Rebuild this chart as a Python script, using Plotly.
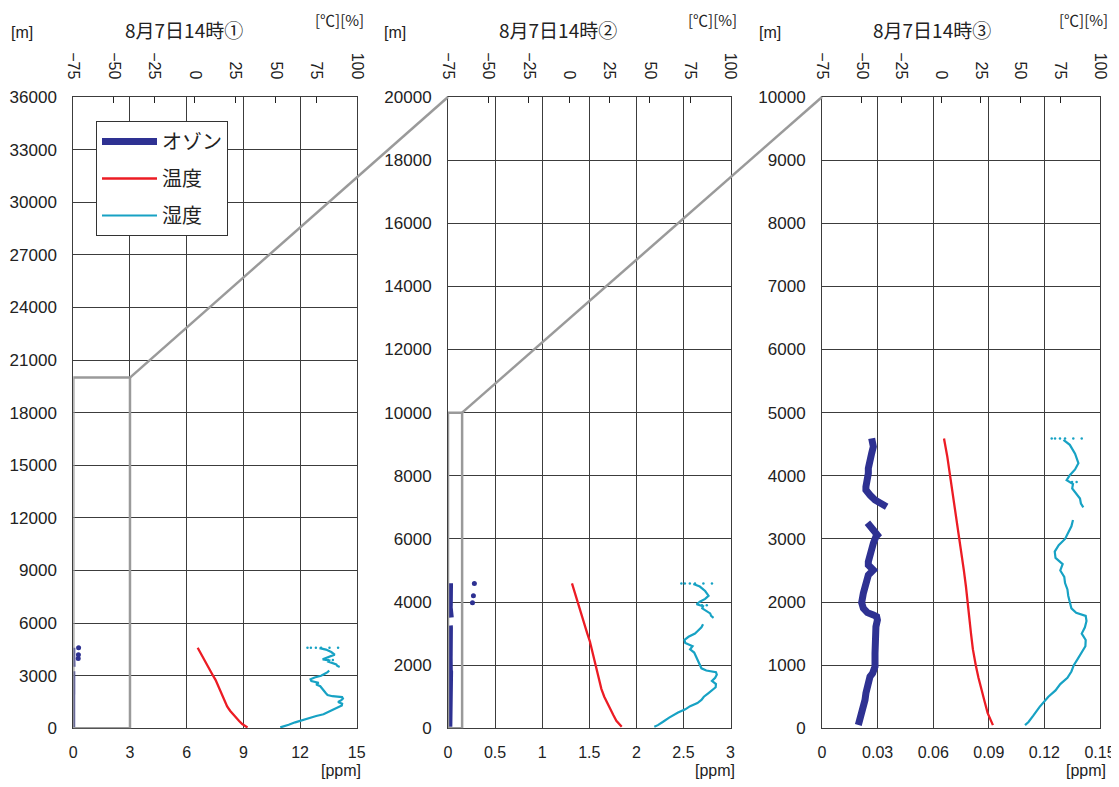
import plotly.graph_objects as go

W, H = 1119, 787
OFF = 8  # the page body margin shifts the figure by this many pixels
FW, FH = W - OFF, H - 2 * OFF  # keep the page from scrolling

# ---------------- data ----------------
# temperature profile [°C] vs altitude [m]
alt_temp = [50, 105, 240, 420, 600, 800, 1000, 1250, 1500, 1750, 2000, 2250, 2500,
            2750, 3000, 3250, 3450, 3700, 4000, 4300, 4590]
temp = [32.6, 31.5, 29.3, 27.4, 25.5, 23.5, 21.8, 20.0, 18.8, 17.8, 16.6, 15.6, 14.3,
        12.9, 11.3, 9.8, 8.7, 7.2, 5.6, 3.9, 1.8]

# relative humidity [%] vs altitude [m]  (None = missing data)
alt_hum = [50, 100, 200, 340, 500, 600, 700, 800, 900, 1000, 1100, 1200, 1300, 1400,
           1500, 1600, 1700, 1780, 1830, 1900, 2000, 2100, 2200, 2300, 2400, 2500,
           2600, 2700, 2800, 2900, 3000, 3100, 3200, 3300, None,
           3500, 3560, 3640, 3720, 3800, 3870, 3930, 4010, 4100, 4200, 4350, 4490, 4570]
hum = [52.8, 55.0, 58.0, 62.0, 67.5, 72.0, 75.0, 79.5, 82.0, 83.5, 86.0, 88.5, 90.8, 91.0,
       88.5, 90.5, 91.5, 91.0, 85.0, 82.0, 81.0, 80.0, 79.5, 78.0, 77.5, 75.0,
       76.5, 72.0, 71.5, 74.0, 78.0, 80.0, 82.0, 83.0, None,
       89.5, 88.0, 87.4, 85.0, 82.5, 83.0, 79.0, 81.0, 84.3, 86.4, 84.3, 81.0, 77.0]
# scattered humidity readings at the top of the sounding
alt_hum_dots = [4590, 4590, 4590, 4590, 4590, 4590, 3900, 3900]
hum_dots = [69.6, 71.7, 74.8, 78.0, 83.2, 88.5, 82.4, 85.3]

# ozone [ppm] vs altitude [m]
alt_oz = [52, 132, 238, 343, 449, 555, 660, 766, 818, 871, 977, 1188, 1400, 1610, 1716,
          1769, 1795, 1832, 1901, 1990, 2138, 2244, 2349, 2429, 2508, 2587, 2640, 2772,
          2930, 3036, 3062, 3142, 3195, 3257, None,
          3510, 3563, 3616, 3695, 3774, 3827, 3906, 4039, 4118, 4250, 4356, 4461, 4593]
ozone = [0.0196, 0.0205, 0.0214, 0.0223, 0.0232, 0.0237, 0.0245, 0.0250, 0.0259, 0.0273,
         0.0286, 0.0286, 0.0286, 0.0291, 0.0299, 0.0295, 0.0277, 0.0245, 0.0223, 0.0214,
         0.0223, 0.0232, 0.0237, 0.0250, 0.0277, 0.0250, 0.0250, 0.0259, 0.0277, 0.0291,
         0.0299, 0.0277, 0.0259, 0.0245, None,
         0.0349, 0.0313, 0.0286, 0.0259, 0.0237, 0.0237, 0.0245, 0.0250, 0.0250, 0.0255,
         0.0268, 0.0277, 0.0268]
# isolated high ozone readings
alt_oz_out = [3980, 4200, 4590]
oz_out = [0.26, 0.27, 0.28]

titles = ["8月7日14時①", "8月7日14時②", "8月7日14時③"]
series_names = ["オゾン", "温度", "湿度"]

ppm_ranges = [[0, 15], [0, 3], [0, 0.15]]
ppm_ticks = [[0, 3, 6, 9, 12, 15],
             [0, 0.5, 1, 1.5, 2, 2.5, 3],
             [0, 0.03, 0.06, 0.09, 0.12, 0.15]]
ppm_ticktext = [["0", "3", "6", "9", "12", "15"],
                ["0", "0.5", "1", "1.5", "2", "2.5", "3"],
                ["0", "0.03", "0.06", "0.09", "0.12", "0.15"]]
alt_ranges = [[0, 36000], [0, 20000], [0, 10000]]
alt_ticks = [[0, 3000, 6000, 9000, 12000, 15000, 18000, 21000, 24000, 27000, 30000, 33000, 36000],
             [0, 2000, 4000, 6000, 8000, 10000, 12000, 14000, 16000, 18000, 20000],
             [0, 1000, 2000, 3000, 4000, 5000, 6000, 7000, 8000, 9000, 10000]]
deg_range = [-75, 100]
deg_ticks = [-75, -50, -25, 0, 25, 50, 75, 100]

# zoom boxes: panel i shows region [0, x] x [0, y] that is panel i+1
zoom_boxes = [(3, 20000), (0.15, 10000)]

# ---------------- styling ----------------
OZ_C = "#2e3192"
T_C = "#ec1c24"
H_C = "#17a2c4"
GRID = "#3c3c3c"
BOX = "#9a9a9a"
NUM_FONT = "Liberation Sans, Arial, sans-serif"
JP_FONT = "Noto Sans CJK JP, sans-serif"
TXT = "#222222"

# target screen positions (px) of the plot areas
P_LEFT = [73.3, 448.0, 822.0]
P_RIGHT = [356.7, 730.5, 1100.0]
P_TOP, P_BOT = 97.0, 728.3
oz_width = [3, 5, 7]


def fx(px):
    return (px - OFF) / FW


def fy(py):
    return 1 - (py - OFF) / FH


fig = go.Figure()


def refs(i):
    xb = "x" if i == 0 else f"x{2*i+1}"
    xt = f"x{2*i+2}"
    yy = "y" if i == 0 else f"y{i+1}"
    return xb, xt, yy


for i in range(3):
    xb, xt, yy = refs(i)
    fig.add_trace(go.Scatter(x=ozone, y=alt_oz, mode="lines", xaxis=xb, yaxis=yy,
                             line=dict(color=OZ_C, width=oz_width[i]),
                             name=series_names[0], legendgroup="oz", legendrank=1,
                             showlegend=(i == 2), connectgaps=False))
    fig.add_trace(go.Scatter(x=oz_out, y=alt_oz_out, mode="markers", xaxis=xb, yaxis=yy,
                             marker=dict(color=OZ_C, size=5), showlegend=False, legendgroup="oz"))
    fig.add_trace(go.Scatter(x=temp, y=alt_temp, mode="lines", xaxis=xt, yaxis=yy,
                             line=dict(color=T_C, width=2.3),
                             name=series_names[1], legendgroup="t", legendrank=2,
                             showlegend=(i == 0)))
    fig.add_trace(go.Scatter(x=hum, y=alt_hum, mode="lines", xaxis=xt, yaxis=yy,
                             line=dict(color=H_C, width=2.2),
                             name=series_names[2], legendgroup="h", legendrank=3,
                             showlegend=(i == 0), connectgaps=False))
    fig.add_trace(go.Scatter(x=hum_dots, y=alt_hum_dots, mode="markers", xaxis=xt, yaxis=yy,
                             marker=dict(color=H_C, size=2.5), showlegend=False, legendgroup="h"))

layout = dict(width=FW, height=FH, margin=dict(l=0, r=0, t=0, b=0, pad=0, autoexpand=False),
              paper_bgcolor="white", plot_bgcolor="white",
              font=dict(family=NUM_FONT, color=TXT))

for i in range(3):
    xb, xt, yy = refs(i)
    xb_key = "xaxis" if i == 0 else f"xaxis{2*i+1}"
    xt_key = f"xaxis{2*i+2}"
    y_key = "yaxis" if i == 0 else f"yaxis{i+1}"
    layout[xb_key] = dict(domain=[fx(P_LEFT[i]), fx(P_RIGHT[i])], range=ppm_ranges[i],
                          anchor=yy, tickvals=ppm_ticks[i], ticktext=ppm_ticktext[i],
                          showgrid=True, gridcolor=GRID, gridwidth=1,
                          showline=True, linecolor=GRID, linewidth=1, ticks="",
                          zeroline=False, ticklabelstandoff=9, automargin=False,
                          tickfont=dict(size=16, family=NUM_FONT, color=TXT))
    layout[xt_key] = dict(overlaying=xb, side="top", anchor=yy, range=deg_range,
                          tickvals=deg_ticks, tickangle=90, ticks="inside", ticklen=6,
                          tickcolor="#222", showgrid=False, showline=True, linecolor=GRID,
                          linewidth=1, zeroline=False, ticklabelstandoff=11, automargin=False,
                          tickfont=dict(size=16, family=NUM_FONT, color=TXT))
    layout[y_key] = dict(domain=[fy(P_BOT), fy(P_TOP)], range=alt_ranges[i],
                         anchor=xb, tickvals=alt_ticks[i], tickformat="d",
                         showgrid=True, gridcolor=GRID, gridwidth=1,
                         showline=True, mirror=True, linecolor=GRID, linewidth=1,
                         ticks="", zeroline=False, ticklabelstandoff=12, automargin=False,
                         tickfont=dict(size=17, family=NUM_FONT, color=TXT))

fig.update_layout(**layout)


def to_paper(i, xv, yv):
    xr, yr = ppm_ranges[i], alt_ranges[i]
    px = P_LEFT[i] + (xv - xr[0]) / (xr[1] - xr[0]) * (P_RIGHT[i] - P_LEFT[i])
    py = P_BOT - (yv - yr[0]) / (yr[1] - yr[0]) * (P_BOT - P_TOP)
    return fx(px), fy(py)


shapes = []
for i, (bx, by) in enumerate(zoom_boxes):
    xb, xt, yy = refs(i)
    shapes.append(dict(type="rect", xref=xb, yref=yy, x0=0, x1=bx, y0=0, y1=by,
                       line=dict(color=BOX, width=2.5), layer="above"))
    x0, y0 = to_paper(i, bx, by)
    nx = i + 1
    x1, y1 = to_paper(nx, ppm_ranges[nx][0], alt_ranges[nx][1])
    shapes.append(dict(type="line", xref="paper", yref="paper", x0=x0, y0=y0, x1=x1, y1=y1,
                       line=dict(color=BOX, width=2.5), layer="above"))
fig.update_layout(shapes=shapes)

title_cx = [184, 558, 932]
m_cx = [22, 395, 770]
deg_cx = [339, 712, 1083]
ppm_cx = [341, 715, 1086]
ann = []
for i in range(3):
    ann.append(dict(x=fx(title_cx[i]), y=fy(29), xref="paper", yref="paper",
                    text=titles[i], showarrow=False, xanchor="center", yanchor="middle",
                    font=dict(family=JP_FONT, size=19, color=TXT)))
    ann.append(dict(x=fx(m_cx[i]), y=fy(32), xref="paper", yref="paper",
                    text="[m]", showarrow=False, xanchor="center", yanchor="middle",
                    font=dict(family=NUM_FONT, size=16, color=TXT)))
    ann.append(dict(x=fx(deg_cx[i]), y=fy(20), xref="paper", yref="paper",
                    text="[℃][%]", showarrow=False, xanchor="center", yanchor="middle",
                    font=dict(family=JP_FONT, size=15, color=TXT)))
    ann.append(dict(x=fx(ppm_cx[i]), y=fy(770), xref="paper", yref="paper",
                    text="[ppm]", showarrow=False, xanchor="center", yanchor="middle",
                    font=dict(family=NUM_FONT, size=16, color=TXT)))
fig.update_layout(annotations=ann)

fig.update_layout(legend=dict(x=fx(96), y=fy(121), xanchor="left", yanchor="top",
                              bgcolor="white", bordercolor="#333", borderwidth=1,
                              font=dict(family=JP_FONT, size=20, color=TXT),
                              traceorder="grouped", tracegroupgap=8, itemwidth=55))

fig.write_html("out.html")
